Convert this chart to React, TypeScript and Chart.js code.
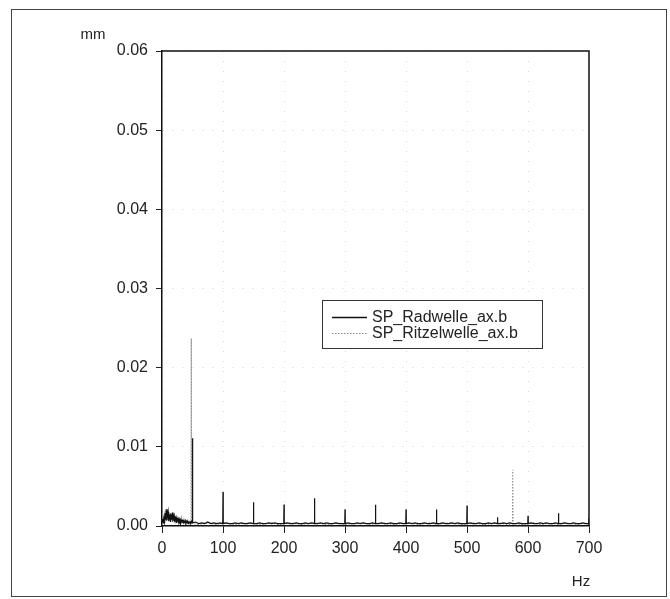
import React, { useEffect, useRef } from "react";
import { Chart, registerables } from "chart.js";

Chart.register(...registerables);

// ---------- data ----------
const seriesNames = ["SP_Radwelle_ax.b", "SP_Ritzelwelle_ax.b"];
const xUnit = "Hz";
const yUnit = "mm";
const xTickValues = [0, 100, 200, 300, 400, 500, 600, 700];
const yTickValues = [0, 0.01, 0.02, 0.03, 0.04, 0.05, 0.06];

const radwelleHz = [
  0, 1, 2, 3, 4, 5, 6, 7, 8, 9, 10, 11, 12, 13, 14, 15, 16, 17, 18, 19, 20, 21, 22, 23, 24,
  25, 26, 27, 28, 29, 30, 31, 32, 33, 34, 35, 36, 37, 38, 39, 40, 41, 42, 43, 44, 45, 46, 47, 48,
  49.6, 50, 50.4, 55, 60, 65, 70, 75, 80, 85, 90, 95,
  99.6, 100, 100.4, 105, 110, 115, 120, 125, 130, 135, 140, 145,
  149.6, 150, 150.4, 155, 160, 165, 170, 175, 180, 185, 190, 195,
  199.6, 200, 200.4, 205, 210, 215, 220, 225, 230, 235, 240, 245,
  249.6, 250, 250.4, 255, 260, 265, 270, 275, 280, 285, 290, 295,
  299.6, 300, 300.4, 305, 310, 315, 320, 325, 330, 335, 340, 345,
  349.6, 350, 350.4, 355, 360, 365, 370, 375, 380, 385, 390, 395,
  399.6, 400, 400.4, 405, 410, 415, 420, 425, 430, 435, 440, 445,
  449.6, 450, 450.4, 455, 460, 465, 470, 475, 480, 485, 490, 495,
  499.6, 500, 500.4, 505, 510, 515, 520, 525, 530, 535, 540, 545,
  549.6, 550, 550.4, 555, 560, 565, 570, 575, 580, 585, 590, 595,
  599.6, 600, 600.4, 605, 610, 615, 620, 625, 630, 635, 640, 645,
  649.6, 650, 650.4, 655, 660, 665, 670, 675, 680, 685, 690, 695,
  699.6, 700,
];
const radwelleMm = [
  0.0005, 0.0009, 0.0004, 0.0012, 0.0006, 0.0016, 0.0008, 0.0021, 0.0007, 0.0013,
  0.0018, 0.0006, 0.0011, 0.0015, 0.0005, 0.0012, 0.0008, 0.0017, 0.0006, 0.001,
  0.0013, 0.0005, 0.0009, 0.0011, 0.0004, 0.0008, 0.001, 0.0005, 0.0009, 0.0006,
  0.0008, 0.0004, 0.0007, 0.0005, 0.0008, 0.0004, 0.0006, 0.0005, 0.0007, 0.0004,
  0.0006, 0.0004, 0.0005, 0.0003, 0.0005, 0.0004, 0.0005, 0.0004, 0.0006,
  0.0004, 0.0111, 0.0004, 0.0005, 0.0003, 0.0004, 0.0003, 0.0005, 0.0003, 0.0004, 0.0003, 0.0004,
  0.0003, 0.0043, 0.0003, 0.0004, 0.0003, 0.0003, 0.0004, 0.0003, 0.0004, 0.0003, 0.0003, 0.0004,
  0.0003, 0.003, 0.0003, 0.0003, 0.0004, 0.0003, 0.0003, 0.0004, 0.0003, 0.0004, 0.0003, 0.0003,
  0.0003, 0.0027, 0.0003, 0.0004, 0.0003, 0.0003, 0.0004, 0.0003, 0.0003, 0.0004, 0.0003, 0.0004,
  0.0003, 0.0035, 0.0003, 0.0003, 0.0004, 0.0003, 0.0004, 0.0003, 0.0003, 0.0004, 0.0003, 0.0003,
  0.0003, 0.0021, 0.0003, 0.0004, 0.0003, 0.0003, 0.0004, 0.0003, 0.0004, 0.0003, 0.0003, 0.0004,
  0.0003, 0.0027, 0.0003, 0.0003, 0.0004, 0.0003, 0.0003, 0.0004, 0.0003, 0.0003, 0.0004, 0.0003,
  0.0003, 0.0021, 0.0003, 0.0004, 0.0003, 0.0004, 0.0003, 0.0003, 0.0004, 0.0003, 0.0003, 0.0004,
  0.0003, 0.0021, 0.0003, 0.0003, 0.0004, 0.0003, 0.0003, 0.0004, 0.0003, 0.0004, 0.0003, 0.0003,
  0.0003, 0.0026, 0.0003, 0.0004, 0.0003, 0.0003, 0.0004, 0.0003, 0.0003, 0.0004, 0.0003, 0.0004,
  0.0003, 0.0011, 0.0003, 0.0003, 0.0004, 0.0003, 0.0004, 0.0003, 0.0003, 0.0004, 0.0003, 0.0003,
  0.0003, 0.0013, 0.0003, 0.0004, 0.0003, 0.0003, 0.0004, 0.0003, 0.0004, 0.0003, 0.0003, 0.0004,
  0.0003, 0.0016, 0.0003, 0.0003, 0.0004, 0.0003, 0.0003, 0.0004, 0.0003, 0.0003, 0.0004, 0.0003,
  0.0003, 0.001,
];

const ritzelwelleHz = [
  0, 1, 2, 3, 4, 5, 6, 7, 8, 9, 10, 11, 12, 13, 14, 15, 16, 17, 18, 19, 20, 21, 22, 23,
  24, 25, 26, 27, 28, 29, 30, 31, 32, 33, 34, 35, 36, 37, 38, 39, 40, 41, 42, 43, 44, 45, 46,
  47.6, 48, 48.4,
  52, 60, 70, 80, 90, 100, 110, 120, 130, 140, 150, 160, 170, 180, 190, 200, 210, 220, 230, 240,
  250, 260, 270, 280, 290, 300, 310, 320, 330, 340, 350, 360, 370, 380, 390, 400, 410, 420,
  430, 440, 450, 460, 470, 480, 490, 500, 510, 520, 530, 540, 550, 560, 570,
  574.6, 575, 575.4,
  580, 590, 600, 610, 620, 630, 640, 650, 660, 670, 680, 690, 700,
];
const ritzelwelleMm = [
  0.0003, 0.0007, 0.0011, 0.0005, 0.0014, 0.0009, 0.0019, 0.0006, 0.0012, 0.0022,
  0.0008, 0.0015, 0.001, 0.0006, 0.0017, 0.0009, 0.0013, 0.0005, 0.0011, 0.0016,
  0.0007, 0.001, 0.0006, 0.0012, 0.0008, 0.0005, 0.001, 0.0007, 0.0009, 0.0004,
  0.0008, 0.0006, 0.001, 0.0005, 0.0007, 0.0004, 0.0008, 0.0005, 0.0006, 0.0004,
  0.0007, 0.0005, 0.0006, 0.0004, 0.0005, 0.0004, 0.0006,
  0.0004, 0.0237, 0.0004,
  0.0003, 0.0002, 0.0004, 0.0003, 0.0002, 0.0004, 0.0003, 0.0002, 0.0003, 0.0004,
  0.0003, 0.0002, 0.0003, 0.0004, 0.0002, 0.0003, 0.0004, 0.0003, 0.0002, 0.0003,
  0.0004, 0.0003, 0.0002, 0.0003, 0.0004, 0.0002, 0.0003, 0.0003, 0.0004, 0.0002,
  0.0003, 0.0004, 0.0003, 0.0002, 0.0003, 0.0004, 0.0003, 0.0002, 0.0003, 0.0004,
  0.0002, 0.0003, 0.0004, 0.0003, 0.0002, 0.0003, 0.0004, 0.0003, 0.0002, 0.0003,
  0.0004, 0.0003, 0.0002,
  0.0003, 0.0071, 0.0003,
  0.0003, 0.0002, 0.0003, 0.0004, 0.0002, 0.0003, 0.0003, 0.0002, 0.0004, 0.0003,
  0.0002, 0.0003, 0.0003,
];

// ---------- styling ----------
const FONT = '"Liberation Sans", Arial, Helvetica, sans-serif';
const TEXT = "#222";
const RAD_COLOR = "#111";
const RITZ_COLOR = "#8a8a8a";
const GRID_COLOR = "rgba(0,0,0,0.16)";

function toPoints(xs: number[], ys: number[]) {
  const n = Math.min(xs.length, ys.length);
  const out: { x: number; y: number }[] = [];
  for (let i = 0; i < n; i++) out.push({ x: xs[i], y: ys[i] });
  return out;
}

const decorPlugin = {
  id: "decor",
  afterDraw(chart: any) {
    const { ctx, chartArea: a } = chart;
    ctx.save();
    // outer frame
    ctx.strokeStyle = "#444";
    ctx.lineWidth = 1;
    ctx.setLineDash([]);
    ctx.strokeRect(11.5, 9.5, 655, 587);
    // plot box top & right
    ctx.strokeStyle = "#111";
    ctx.lineWidth = 1.5;
    ctx.beginPath();
    ctx.moveTo(a.left, a.top);
    ctx.lineTo(a.right, a.top);
    ctx.lineTo(a.right, a.bottom);
    ctx.stroke();
    // units
    ctx.fillStyle = TEXT;
    ctx.font = `15px ${FONT}`;
    ctx.textAlign = "center";
    ctx.textBaseline = "middle";
    ctx.fillText(yUnit, 93, 35);
    ctx.fillText(xUnit, 581, 582);
    // legend
    const lx = 322, ly = 300, lw = 220, lh = 48;
    ctx.fillStyle = "#fff";
    ctx.fillRect(lx, ly, lw, lh);
    ctx.strokeStyle = "#333";
    ctx.lineWidth = 1;
    ctx.strokeRect(lx + 0.5, ly + 0.5, lw, lh);
    const rows = [ly + 17, ly + 33];
    chart.data.datasets.forEach((ds: any, i: number) => {
      const y = rows[i];
      ctx.strokeStyle = ds.borderColor;
      ctx.lineWidth = i === 0 ? 1.6 : 1.2;
      ctx.setLineDash(ds.borderDash || []);
      ctx.beginPath();
      ctx.moveTo(lx + 10, y + 0.5);
      ctx.lineTo(lx + 45, y + 0.5);
      ctx.stroke();
      ctx.setLineDash([]);
      ctx.fillStyle = TEXT;
      ctx.font = `16px ${FONT}`;
      ctx.textAlign = "left";
      ctx.textBaseline = "middle";
      ctx.fillText(ds.label, lx + 50, y + 1);
    });
    ctx.restore();
  },
};

export default function App() {
  const canvasRef = useRef<HTMLCanvasElement | null>(null);

  useEffect(() => {
    const canvas = canvasRef.current;
    if (!canvas) return;
    const chart = new Chart(canvas, {
      type: "line",
      data: {
        datasets: [
          {
            label: seriesNames[0],
            data: toPoints(radwelleHz, radwelleMm),
            borderColor: RAD_COLOR,
            borderWidth: 1.2,
            pointRadius: 0,
            fill: false,
            tension: 0,
          },
          {
            label: seriesNames[1],
            data: toPoints(ritzelwelleHz, ritzelwelleMm),
            borderColor: RITZ_COLOR,
            borderWidth: 1.1,
            borderDash: [1.5, 1.5],
            pointRadius: 0,
            fill: false,
            tension: 0,
          },
        ],
      },
      options: {
        animation: false,
        responsive: false,
        maintainAspectRatio: false,
        layout: { padding: { left: 0, right: 81, top: 51, bottom: 0 } },
        plugins: {
          legend: { display: false },
          tooltip: { enabled: false },
        },
        scales: {
          x: {
            type: "linear",
            min: 0,
            max: 700,
            afterBuildTicks: (s: any) => {
              s.ticks = xTickValues.map((v) => ({ value: v }));
            },
            afterFit: (s: any) => {
              s.height = 73;
              s.paddingLeft = 0;
              s.paddingRight = 0;
            },
            ticks: {
              font: { family: FONT, size: 16 },
              color: TEXT,
              padding: 6,
              maxRotation: 0,
              autoSkip: false,
              callback: (v: any) => String(v),
            },
            grid: {
              color: GRID_COLOR,
              lineWidth: 1,
              drawTicks: true,
              tickLength: 7,
              tickColor: "#222",
              tickWidth: 1,
              tickBorderDash: [],
            },
            border: { display: true, color: "#111", width: 1.5, dash: [1, 9] },
          },
          y: {
            type: "linear",
            min: 0,
            max: 0.06,
            afterBuildTicks: (s: any) => {
              s.ticks = yTickValues.map((v) => ({ value: v }));
            },
            afterFit: (s: any) => {
              s.width = 162;
              s.paddingTop = 0;
              s.paddingBottom = 0;
            },
            ticks: {
              font: { family: FONT, size: 16 },
              color: TEXT,
              padding: 8,
              autoSkip: false,
              callback: (v: any) => Number(v).toFixed(2),
            },
            grid: {
              color: GRID_COLOR,
              lineWidth: 1,
              drawTicks: true,
              tickLength: 6,
              tickColor: "#222",
              tickWidth: 1,
              tickBorderDash: [],
            },
            border: { display: true, color: "#111", width: 1.5, dash: [1, 9] },
          },
        },
      },
      plugins: [decorPlugin],
    });
    return () => chart.destroy();
  }, []);

  return (
    <div style={{ position: "absolute", left: 0, top: 0, width: 670, height: 599, background: "#fff" }}>
      <canvas ref={canvasRef} width={670} height={599} style={{ display: "block" }} />
    </div>
  );
}
